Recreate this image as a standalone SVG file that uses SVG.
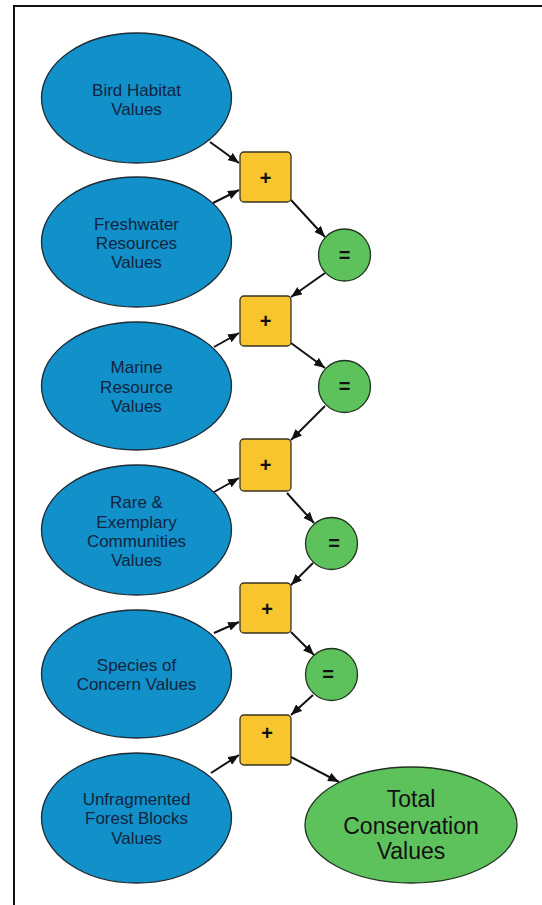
<svg xmlns="http://www.w3.org/2000/svg" width="542" height="905" viewBox="0 0 542 905">
<style>
.in{fill:#1190c9;stroke:#1f2a33;stroke-width:1.3}
.op{fill:#f8c52e;stroke:#3a3320;stroke-width:1.3}
.eq{fill:#5ec25c;stroke:#1f3320;stroke-width:1.3}
.t{font-family:"Liberation Sans",Arial,sans-serif;font-size:17px;fill:#13243f;text-anchor:middle}
.s{font-family:"Liberation Sans",Arial,sans-serif;font-size:20px;font-weight:bold;fill:#111;text-anchor:middle}
.big{font-family:"Liberation Sans",Arial,sans-serif;font-size:23px;fill:#111;text-anchor:middle}
.c line{stroke:#111;stroke-width:2;marker-end:url(#ah)}
</style>
<defs>
<marker id="ah" viewBox="0 0 11 9" refX="11" refY="4.5" markerWidth="11" markerHeight="9" markerUnits="userSpaceOnUse" orient="auto">
<path d="M0,0 L11,4.5 L0,9 z" fill="#111"/>
</marker>
</defs>
<rect x="0" y="0" width="542" height="905" fill="#fff"/>
<rect x="14" y="6" width="560" height="920" fill="none" stroke="#111" stroke-width="2"/>

<g class="c" id="connectors">
<line x1="210" y1="142" x2="239" y2="163"/>
<line x1="213" y1="203" x2="239" y2="190"/>
<line x1="291" y1="200" x2="325" y2="237"/>
<line x1="325" y1="273" x2="291" y2="297"/>
<line x1="214" y1="347" x2="239" y2="333"/>
<line x1="291" y1="343" x2="325" y2="368"/>
<line x1="325" y1="406" x2="291" y2="440"/>
<line x1="214" y1="492" x2="239" y2="478"/>
<line x1="287" y1="493" x2="314" y2="523"/>
<line x1="313" y1="563" x2="291" y2="585"/>
<line x1="214" y1="633" x2="239" y2="622"/>
<line x1="291" y1="632" x2="314" y2="655"/>
<line x1="313" y1="695" x2="291" y2="715"/>
<line x1="211" y1="773" x2="239" y2="755"/>
<line x1="291" y1="757" x2="339" y2="782"/>
</g>

<g id="bird"><ellipse class="in" cx="136.5" cy="98" rx="95" ry="65"/>
<text class="t" x="136.5" y="96">Bird Habitat</text><text class="t" x="136.5" y="115">Values</text></g>
<g id="freshwater"><ellipse class="in" cx="136.5" cy="242" rx="95" ry="65"/>
<text class="t" x="136.5" y="230">Freshwater</text><text class="t" x="136.5" y="249">Resources</text><text class="t" x="136.5" y="268">Values</text></g>
<g id="marine"><ellipse class="in" cx="136.5" cy="386" rx="95" ry="64"/>
<text class="t" x="136.5" y="373">Marine</text><text class="t" x="136.5" y="393">Resource</text><text class="t" x="136.5" y="412">Values</text></g>
<g id="rare"><ellipse class="in" cx="136.5" cy="530" rx="95" ry="65"/>
<text class="t" x="136.5" y="508">Rare &amp;</text><text class="t" x="136.5" y="528">Exemplary</text><text class="t" x="136.5" y="547">Communities</text><text class="t" x="136.5" y="566">Values</text></g>
<g id="species"><ellipse class="in" cx="136.5" cy="674" rx="95" ry="64"/>
<text class="t" x="136.5" y="671">Species of</text><text class="t" x="136.5" y="690">Concern Values</text></g>
<g id="unfragmented"><ellipse class="in" cx="136.5" cy="818" rx="95" ry="65"/>
<text class="t" x="136.5" y="805">Unfragmented</text><text class="t" x="136.5" y="824">Forest Blocks</text><text class="t" x="136.5" y="844">Values</text></g>

<g id="plus1"><rect class="op" x="240" y="152" width="51" height="50" rx="4"/><text class="s" x="265.5" y="185">+</text></g>
<g id="plus2"><rect class="op" x="240" y="296" width="51" height="50" rx="4"/><text class="s" x="265.5" y="328">+</text></g>
<g id="plus3"><rect class="op" x="240" y="439" width="51" height="52" rx="4"/><text class="s" x="265.5" y="472">+</text></g>
<g id="plus4"><rect class="op" x="240" y="583" width="51" height="50" rx="4"/><text class="s" x="267" y="616">+</text></g>
<g id="plus5"><rect class="op" x="240" y="715" width="51" height="50" rx="4"/><text class="s" x="267" y="740">+</text></g>

<g id="eq1"><circle class="eq" cx="344.5" cy="255" r="26"/><text class="s" x="344.5" y="262">=</text></g>
<g id="eq2"><circle class="eq" cx="344.5" cy="386.5" r="26"/><text class="s" x="344.5" y="393">=</text></g>
<g id="eq3"><circle class="eq" cx="331.5" cy="543.5" r="26"/><text class="s" x="334" y="550">=</text></g>
<g id="eq4"><circle class="eq" cx="331.5" cy="674.5" r="26"/><text class="s" x="328" y="681">=</text></g>

<g id="total"><ellipse class="eq" cx="411" cy="825" rx="106" ry="58"/>
<text class="big" x="411" y="807">Total</text><text class="big" x="411" y="834">Conservation</text><text class="big" x="411" y="859">Values</text></g>
</svg>
